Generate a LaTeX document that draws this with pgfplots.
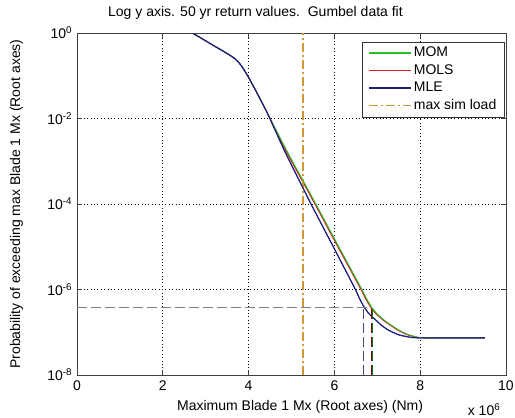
\documentclass[border=0pt]{standalone}
\usepackage{fontspec}
\setmainfont{Liberation Sans}
\usepackage{pgfplots}
\usepackage{pgfplotstable}
\pgfplotsset{compat=1.18}
\definecolor{momc}{RGB}{40,190,40}
\definecolor{molsc}{RGB}{220,30,30}
\definecolor{mlec}{RGB}{30,30,130}
\definecolor{simc}{RGB}{210,150,50}
\definecolor{refc}{RGB}{128,128,128}
\pgfplotstableread{
x p
2.69 1
2.90 0.752
3.16 0.525
3.40 0.380
3.55 0.309
3.68 0.251
3.78 0.200
3.86 0.155
3.93 0.120
4.00 0.0912
4.20 0.0389
4.45 0.0126
4.88 1.82e-3
5.20 4.68e-4
5.55 1.07e-4
6.10 1.0e-5
6.64 1.0e-6
6.75 6.03e-7
6.87 3.80e-7
7.00 2.63e-7
7.15 1.95e-7
7.30 1.51e-7
7.50 1.12e-7
7.70 8.91e-8
7.95 7.59e-8
8.20 7.41e-8
9.51 7.41e-8
}\mom
\pgfplotstableread{
x p
2.69 1
2.90 0.752
3.16 0.525
3.40 0.380
3.55 0.309
3.68 0.251
3.78 0.200
3.86 0.155
3.93 0.120
4.00 0.0912
4.20 0.0389
4.45 0.0126
4.86 1.82e-3
5.18 4.68e-4
5.53 1.07e-4
6.08 1.0e-5
6.62 1.0e-6
6.73 6.03e-7
6.85 3.80e-7
6.98 2.63e-7
7.13 1.95e-7
7.28 1.51e-7
7.48 1.12e-7
7.68 8.91e-8
7.93 7.59e-8
8.20 7.41e-8
9.51 7.41e-8
}\mols
\pgfplotstableread{
x p
2.69 1
2.90 0.752
3.16 0.525
3.40 0.380
3.55 0.309
3.68 0.251
3.78 0.200
3.86 0.155
3.93 0.120
4.00 0.0912
4.20 0.0389
4.45 0.0126
4.83 1.82e-3
5.10 5.13e-4
5.44 1.07e-4
6.00 8.91e-6
6.49 1.0e-6
6.58 6.31e-7
6.68 4.07e-7
6.80 2.75e-7
6.96 1.95e-7
7.10 1.45e-7
7.26 1.12e-7
7.50 8.71e-8
7.73 7.76e-8
7.95 7.41e-8
9.51 7.41e-8
}\mle
\begin{document}
\fontsize{14}{16}\selectfont
\begin{tikzpicture}
\path[use as bounding box] (-77pt,-43pt) rectangle (438pt,375pt);
\begin{axis}[
 name=ax,
 at={(0pt,0pt)}, anchor=south west,
 scale only axis, width=429pt, height=342pt,
 xmin=0, xmax=10, ymode=log, ymin=1e-8, ymax=1,
 xtick={0,2,4,6,8,10}, xticklabels={0,2,4,6,8,10},
 ytick={1e-8,1e-6,1e-4,1e-2,1},
 yticklabels={10\textsuperscript{-8},10\textsuperscript{-6},10\textsuperscript{-4},10\textsuperscript{-2},10\textsuperscript{0}},
 yminorticks=false,
 tick align=inside, major tick length=5pt,
 xticklabel style={yshift=-1pt},
 grid=major, major grid style={black, dash pattern=on 0.8pt off 2.6pt, line width=0.7pt},
 axis line style={black!75, line width=0.8pt},
 tick style={black!75, line width=0.8pt},
 xlabel={Maximum Blade 1 Mx (Root axes) (Nm)},
 ylabel={Probability of exceeding max Blade 1 Mx (Root axes)},
 xlabel style={at={(axis description cs:0.52,-0.0936)}, anchor=center},
 ylabel style={at={(axis description cs:-0.141,0.5)}, anchor=center},
 title={Log y axis. 50 yr return values.\ \ Gumbel data fit},
 title style={at={(axis description cs:0.416,1.032)}, anchor=base},
 legend style={at={(0.997,0.975)}, anchor=north east, draw=black!80, fill=white, line width=0.8pt,
   inner xsep=6pt, inner ysep=2.5pt, row sep=0pt,
   nodes={inner sep=2pt, text height=10.5pt, text depth=3pt}},
 legend cell align=left,
 legend image code/.code={\draw[#1, line width=1.5pt] (0pt,0pt) -- (42pt,0pt);},
]
\addplot[color=momc, line width=1.0pt, smooth, tension=0.3] table[x=x,y=p] {\mom};
\addlegendentry{MOM}
\addplot[color=molsc, line width=1.0pt, smooth, tension=0.3] table[x=x,y=p] {\mols};
\addlegendentry{MOLS}
\addplot[color=mlec, line width=1.0pt, smooth, tension=0.3] table[x=x,y=p] {\mle};
\addlegendentry{MLE}
\addplot[color=simc, line width=1.3pt, dash pattern=on 9pt off 3pt on 2pt off 3pt] coordinates {(5.27,1e-8) (5.27,1)};
\addlegendentry{max sim load}
\addplot[color=momc, line width=0.6pt, smooth, tension=0.3, forget plot] table[x=x,y=p] {\mom};
\addplot[color=mlec, line width=1.0pt, smooth, tension=0.3, forget plot] table[x=x,y=p] {\mle};
\addplot[color=refc, line width=1.2pt, dash pattern=on 10pt off 4pt, forget plot] coordinates {(0,3.8e-7) (6.87,3.8e-7)};
\addplot[color=mlec!60!gray, line width=1.4pt, dash pattern=on 10pt off 4pt, forget plot] coordinates {(6.68,1e-8) (6.68,3.8e-7)};
\addplot[color=molsc!50!black, line width=1.3pt, dash pattern=on 10pt off 4pt, forget plot] coordinates {(6.86,1e-8) (6.86,3.8e-7)};
\addplot[color=momc!60!black, line width=1.3pt, dash pattern=on 10pt off 4pt, forget plot] coordinates {(6.88,1e-8) (6.88,3.8e-7)};
\end{axis}
\node[anchor=base west] at ([xshift=-43pt,yshift=-41pt]ax.south east) {x 10\textsuperscript{6}};
\end{tikzpicture}
\end{document}
